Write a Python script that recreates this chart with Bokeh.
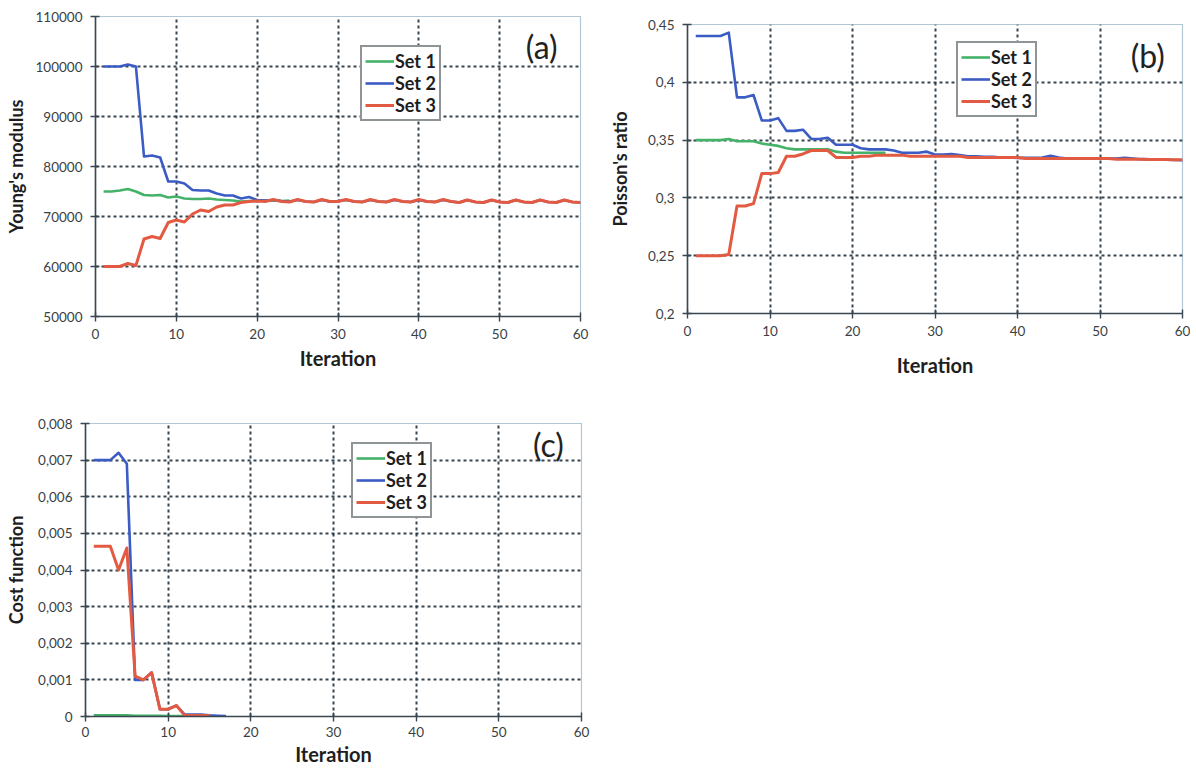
from bokeh.plotting import figure
from bokeh.layouts import column, row
from bokeh.models import Range1d, FixedTicker, Legend, LegendItem, Label
from bokeh.embed import file_html
from bokeh.resources import INLINE

# ---------------- data ----------------
iterations = list(range(1, 61))
x_ticks = [0, 10, 20, 30, 40, 50, 60]
series_names = ["Set 1", "Set 2", "Set 3"]

# (a) Young's modulus
young_set1 = [75000, 75000, 75200, 75500, 75000, 74300, 74200, 74300, 73800, 74000,
              73600, 73500, 73500, 73600, 73400, 73300, 73200, 73000, 73100, 73100,
              73200, 73200, 73100, 73200]
young_set2 = [100000, 100000, 100000, 100400, 100000, 82000, 82200, 81800, 77000, 77000,
              76600, 75300, 75200, 75200, 74600, 74200, 74200, 73600, 73900, 73300,
              73200, 73300, 73100, 73000, 73300, 73000, 72900, 73300, 73000, 73100,
              73300, 73000, 72900, 73300, 73000, 72900, 73300, 73000, 72900, 73300,
              73000, 72900, 73300, 73000, 72800, 73300, 72900, 72800, 73300, 72900,
              72800, 73300, 72900, 72800, 73300, 72900, 72800, 73300, 72900, 72800]
young_set3 = [60000, 60000, 60000, 60600, 60200, 65500, 66000, 65600, 68800, 69300,
              68900, 70500, 71300, 71000, 71900, 72300, 72300, 72800, 73000, 73100,
              73000, 73400, 73000, 72900, 73400, 73000, 72900, 73400, 73000, 73000,
              73400, 73000, 72900, 73400, 73000, 72900, 73400, 73000, 72900, 73400,
              73000, 72900, 73400, 73000, 72800, 73300, 72900, 72800, 73300, 72900,
              72800, 73300, 72900, 72800, 73300, 72900, 72800, 73300, 72900, 72800]
young_ticks = [50000, 60000, 70000, 80000, 90000, 100000, 110000]
young_labels = ["50000", "60000", "70000", "80000", "90000", "100000", "110000"]

# (b) Poisson's ratio
poisson_set1 = [0.350, 0.350, 0.350, 0.350, 0.351, 0.349, 0.349, 0.349, 0.347, 0.346,
                0.345, 0.343, 0.342, 0.342, 0.342, 0.342, 0.342, 0.340, 0.339, 0.339,
                0.339, 0.339, 0.339, 0.339]
poisson_set2 = [0.440, 0.440, 0.440, 0.440, 0.443, 0.387, 0.387, 0.389, 0.367, 0.367,
                0.369, 0.358, 0.358, 0.359, 0.351, 0.351, 0.352, 0.346, 0.346, 0.346,
                0.343, 0.342, 0.342, 0.342, 0.341, 0.339, 0.339, 0.339, 0.340, 0.3375,
                0.3375, 0.338, 0.337, 0.336, 0.336, 0.3355, 0.3355, 0.335, 0.335, 0.3346,
                0.3346, 0.3346, 0.335, 0.3365, 0.335, 0.334, 0.334, 0.334, 0.334, 0.334,
                0.334, 0.334, 0.3346, 0.334, 0.3335, 0.3333, 0.3333, 0.3330, 0.3328, 0.3326]
poisson_set3 = [0.250, 0.250, 0.250, 0.250, 0.251, 0.293, 0.293, 0.295, 0.321, 0.321,
                0.322, 0.336, 0.336, 0.338, 0.341, 0.341, 0.341, 0.335, 0.335, 0.335,
                0.336, 0.336, 0.337, 0.337, 0.337, 0.337, 0.336, 0.336, 0.336, 0.336,
                0.336, 0.336, 0.336, 0.335, 0.335, 0.335, 0.335, 0.335, 0.335, 0.335,
                0.334, 0.334, 0.334, 0.334, 0.334, 0.334, 0.334, 0.334, 0.334, 0.334,
                0.334, 0.3335, 0.3335, 0.3335, 0.3335, 0.3333, 0.3333, 0.3333, 0.333, 0.333]
poisson_ticks = [0.2, 0.25, 0.3, 0.35, 0.4, 0.45]
poisson_labels = ["0,2", "0,25", "0,3", "0,35", "0,4", "0,45"]

# (c) Cost function
cost_set1 = [0.00003, 0.00003, 0.00003, 0.00003, 0.00003, 0.00002, 0.00002, 0.00002,
             0.00002, 0.00001, 0.00001, 0.00001]
cost_set2 = [0.0070, 0.0070, 0.0070, 0.0072, 0.0069, 0.0010, 0.0010, 0.0012, 0.0002,
             0.0002, 0.0003, 0.00005, 0.00005, 0.00005, 0.00003, 0.00002, 0.00001]
cost_set3 = [0.00465, 0.00465, 0.00465, 0.0040, 0.0046, 0.0011, 0.0010, 0.0012, 0.0002,
             0.0002, 0.0003, 0.00003, 0.00003, 0.00003, 0.00003]
cost_ticks = [0.0, 0.001, 0.002, 0.003, 0.004, 0.005, 0.006, 0.007, 0.008]
cost_labels = ["0", "0,001", "0,002", "0,003", "0,004", "0,005", "0,006", "0,007", "0,008"]

# ---------------- styling ----------------
COLORS = ["#45b26a", "#3b5cc4", "#e35a42"]
WIDTHS = [2.6, 2.6, 3.0]
FONT = "Lato"
GRID = "#22313c"
AXIS = "#3a4650"


def make_panel(series, yticks, ylabels, yr, ylabel, tag, tag_pos,
               width, height, borders, leg_loc, ylabel_standoff, x_standoffs,
               x_line_height=1.2):
    left, right, top, bottom = borders
    p = figure(width=width, height=height, output_backend="svg",
               toolbar_location=None, x_range=Range1d(0, 60), y_range=Range1d(*yr),
               min_border_left=left, min_border_right=right,
               min_border_top=top, min_border_bottom=bottom)
    p.background_fill_color = "white"
    p.border_fill_color = "white"
    p.outline_line_color = "#b3c6d4"
    p.outline_line_width = 1.2

    p.xgrid.ticker = FixedTicker(ticks=x_ticks)
    p.ygrid.ticker = FixedTicker(ticks=yticks)
    for g in (p.xgrid[0], p.ygrid[0]):
        g.grid_line_color = GRID
        g.grid_line_dash = "3 3"
        g.grid_line_width = 2
        g.grid_line_alpha = 0.9

    renderers = []
    for i, ys in enumerate(series):
        xs = iterations[:len(ys)]
        r = p.line(xs, ys, line_color=COLORS[i], line_width=WIDTHS[i],
                   line_join="round")
        renderers.append(r)

    for ax, ticks, labels in ((p.xaxis[0], x_ticks, [str(t) for t in x_ticks]),
                              (p.yaxis[0], yticks, ylabels)):
        ax.ticker = FixedTicker(ticks=ticks)
        ax.major_label_overrides = {t: l for t, l in zip(ticks, labels)}
        ax.minor_tick_line_color = None
        ax.axis_line_color = AXIS
        ax.axis_line_width = 1.6
        ax.major_tick_line_color = AXIS
        ax.major_tick_line_width = 1.4
        ax.major_tick_in = 4
        ax.major_tick_out = 5
        ax.major_label_text_font = FONT
        ax.major_label_text_font_size = "13.5px"
        ax.major_label_text_color = "#3a3f44"
        ax.axis_label_text_font = FONT
        ax.axis_label_text_font_style = "bold"
        ax.axis_label_text_color = "#1e1e1e"

    p.xaxis.axis_label = "Iteration"
    p.xaxis.axis_label_text_font_size = "20px"
    p.xaxis.major_label_standoff = x_standoffs[0]
    p.xaxis.axis_label_standoff = x_standoffs[1]
    p.xaxis.axis_label_text_line_height = x_line_height
    p.xaxis.major_label_text_line_height = x_line_height
    p.yaxis.axis_label = ylabel
    p.yaxis.axis_label_text_font_size = "18px"
    p.yaxis.axis_label_standoff = ylabel_standoff
    p.yaxis.major_label_standoff = 8

    legend = Legend(items=[LegendItem(label=n, renderers=[r])
                           for n, r in zip(series_names, renderers)],
                    location=leg_loc)
    legend.label_text_font = FONT
    legend.label_text_font_style = "bold"
    legend.label_text_font_size = "18px"
    legend.label_text_color = "#1e1e1e"
    legend.glyph_width = 29
    legend.glyph_height = 20
    legend.label_height = 20
    legend.label_standoff = 1
    legend.spacing = 0
    legend.padding = 3
    legend.margin = 0
    legend.border_line_color = "#1f2a30"
    legend.border_line_width = 2
    legend.background_fill_color = "white"
    legend.background_fill_alpha = 1.0
    p.add_layout(legend)

    p.add_layout(Label(x=tag_pos[0], y=tag_pos[1], text=tag, text_align="center",
                       text_baseline="middle", text_font=FONT,
                       text_font_size="32px", text_color="#222222"))
    return p


pa = make_panel([young_set1, young_set2, young_set3], young_ticks, young_labels,
                (50000, 110000), "Young's modulus", "(a)", (55.2, 104000),
                594, 389, (95, 14, 16, 73), (265, 195), 6, (7, 4))
pc = make_panel([cost_set1, cost_set2, cost_set3], cost_ticks, cost_labels,
                (0.0, 0.008), "Cost function", "(c)", (56.0, 0.00743),
                594, 386, (85, 13, 34, 59), (266, 198), 8, (5, 2), 0.9)
pb = make_panel([poisson_set1, poisson_set2, poisson_set3], poisson_ticks, poisson_labels,
                (0.2, 0.45), "Poisson's ratio", "(b)", (55.8, 0.4232),
                596, 396, (93, 8, 24, 83), (269, 196), 14, (7, 14))

layout = row(column(row(pa), row(pc)), pb)
open("out.html", "w").write(file_html(layout, INLINE))
